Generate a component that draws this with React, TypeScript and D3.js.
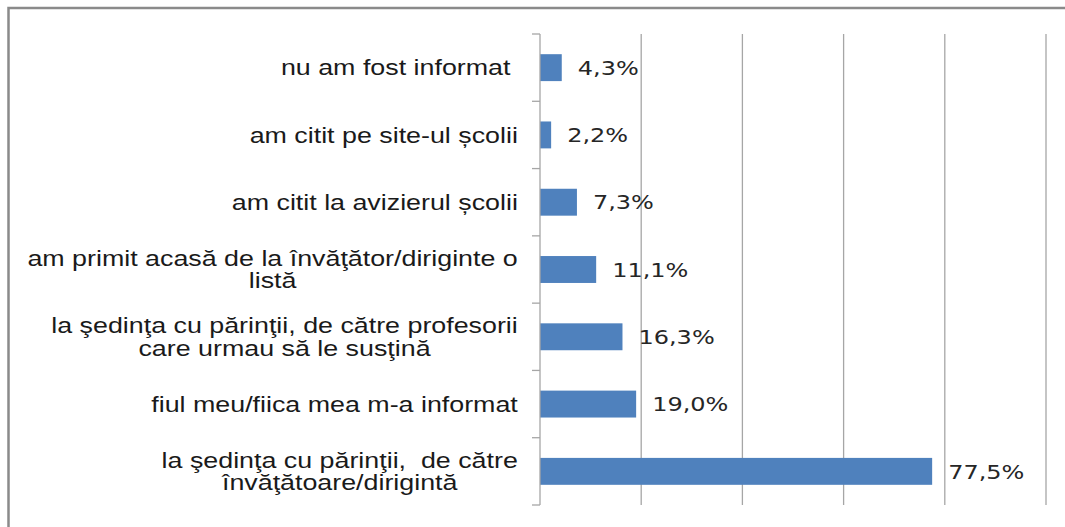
import React, { useEffect, useRef } from "react";
import * as d3 from "d3";

// answers, top to bottom, each split into its printed lines
const categories = [
  ["nu am fost informat "],
  ["am citit pe site-ul școlii"],
  ["am citit la avizierul școlii"],
  ["am primit acasă de la învăţător/diriginte o", "listă"],
  ["la şedinţa cu părinţii, de către profesorii", "care urmau să le susţină"],
  ["fiul meu/fiica mea m-a informat"],
  ["la şedinţa cu părinţii,  de către", "învăţătoare/dirigintă"],
];
const values = [4.3, 2.2, 7.3, 11.1, 16.3, 19.0, 77.5];
const gridTicks = [0, 20, 40, 60, 80, 100];

const W = 1065;
const H = 527;
// the original's text is drawn a bit wide
const SX_VAL = 1.2;
const SX_CAT = 1.22;

const App = () => {
  const ref = useRef<SVGSVGElement | null>(null);

  useEffect(() => {
    const svg = d3.select(ref.current);
    svg.selectAll("*").remove();

    const keys = categories.map((c) => c.join(" "));
    const x = d3.scaleLinear().domain([0, 100]).range([540, 1046]);
    const y = d3
      .scaleBand()
      .domain(keys)
      .range([34, 505])
      .paddingInner(0.6)
      .paddingOuter(0.3);

    // outer frame (runs past the right and bottom edges)
    svg
      .append("rect")
      .attr("x", 8.5)
      .attr("y", 8)
      .attr("width", W + 20)
      .attr("height", H + 20)
      .attr("fill", "#fff")
      .attr("stroke", "#8a8a8a")
      .attr("stroke-width", 2.5);

    // vertical gridlines
    svg
      .selectAll(".grid")
      .data(gridTicks.slice(1))
      .enter()
      .append("line")
      .attr("x1", (d) => x(d))
      .attr("x2", (d) => x(d))
      .attr("y1", 34)
      .attr("y2", 505)
      .attr("stroke", "#a6a6a6")
      .attr("stroke-width", 1.3);

    // bars
    svg
      .selectAll(".bar")
      .data(values)
      .enter()
      .append("rect")
      .attr("x", x(0))
      .attr("y", (d, i) => y(keys[i]) as number)
      .attr("width", (d) => x(d) - x(0))
      .attr("height", y.bandwidth())
      .attr("fill", "#4f81bd");

    // category axis + tick marks at band boundaries
    svg
      .append("line")
      .attr("x1", x(0))
      .attr("x2", x(0))
      .attr("y1", 34)
      .attr("y2", 505)
      .attr("stroke", "#a6a6a6")
      .attr("stroke-width", 1.3);
    const step = y.step();
    svg
      .selectAll(".tick")
      .data(d3.range(keys.length + 1))
      .enter()
      .append("line")
      .attr("x1", x(0) - 8)
      .attr("x2", x(0))
      .attr("y1", (k) => 34 + k * step)
      .attr("y2", (k) => 34 + k * step)
      .attr("stroke", "#a6a6a6")
      .attr("stroke-width", 1.3);

    // value labels
    svg
      .selectAll(".val")
      .data(values)
      .enter()
      .append("text")
      .attr(
        "transform",
        (d, i) =>
          `translate(${x(d) + 16},${(y(keys[i]) as number) + y.bandwidth() / 2}) scale(${SX_VAL},1)`
      )
      .attr("dy", "0.36em")
      .attr("font-family", "'DejaVu Sans', Verdana, sans-serif")
      .attr("font-size", 20)
      .attr("fill", "#262626")
      .text((d) => d.toFixed(1).replace(".", ",") + "%");

    // category labels: block right-aligned, lines centred inside it
    const lineH = 22.4;
    categories.forEach((lines, i) => {
      const cy = (y(keys[i]) as number) + y.bandwidth() / 2;
      const g = svg.append("g");
      const texts = lines.map((line) =>
        g
          .append("text")
          .attr("dy", "0.35em")
          .attr("text-anchor", "middle")
          .attr("font-family", "'Liberation Sans', Arial, sans-serif")
          .attr("font-size", 22)
          .attr("fill", "#1a1a1a")
          .style("white-space", "pre")
          .text(line)
      );
      const widest =
        (d3.max(texts, (t) => (t.node() as SVGTextElement).getComputedTextLength()) || 0) * SX_CAT;
      texts.forEach((t, j) =>
        t.attr(
          "transform",
          `translate(${518 - widest / 2},${cy + (j - (lines.length - 1) / 2) * lineH}) scale(${SX_CAT},1)`
        )
      );
    });
  }, []);

  return (
    <svg
      ref={ref}
      width={W}
      height={H}
      style={{ position: "absolute", left: 0, top: 0, display: "block" }}
    />
  );
};

export default App;
